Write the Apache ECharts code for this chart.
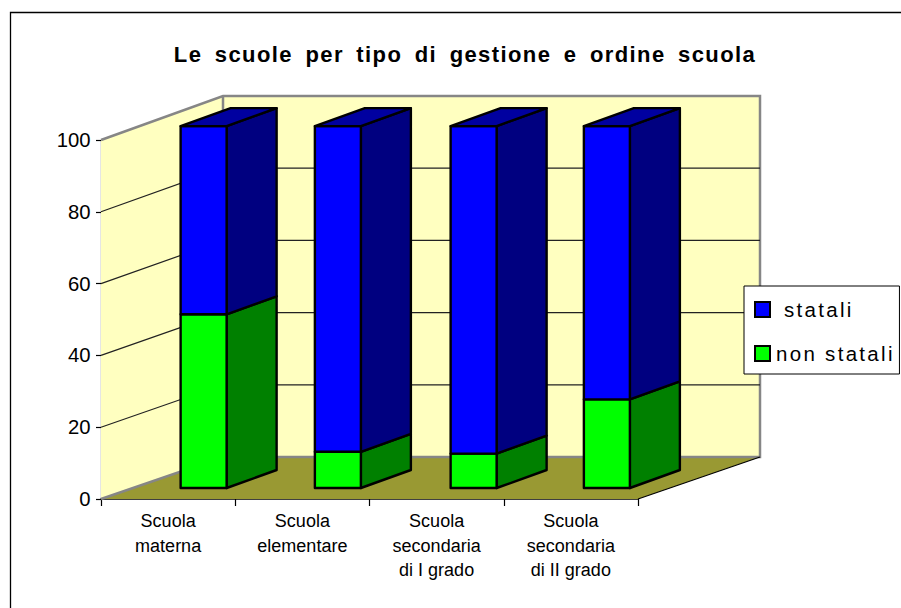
<!DOCTYPE html>
<html><head><meta charset="utf-8">
<style>
html,body{margin:0;padding:0;background:#fff}
#c{width:901px;height:608px}
#c svg text[style*="bold"]{letter-spacing:1.4px;word-spacing:5px}
#c svg text[style*="20.5px"]{letter-spacing:2.3px}
</style>
<script src="https://cdn.jsdelivr.net/npm/echarts@6/dist/echarts.min.js"></script>
</head><body><div id="c"></div>
<script>
const titleText = 'Le scuole per tipo di gestione e ordine scuola';
const categories = ['Scuola\nmaterna','Scuola\nelementare','Scuola\nsecondaria\ndi I grado','Scuola\nsecondaria\ndi II grado'];
const nonStatali = [48, 10, 9.5, 24.5];
const statali = [52, 90, 90.5, 75.5];
const yTicks = [0, 20, 40, 60, 80, 100];

// 3D projection layout (pixels)
const WALL_DX = 122, WALL_DY = -42, BACK_SCALE = 1.0055;
const BAR_DX = 50, BAR_DY = -18, BAR_W = 46, BAR_SHIFT_X = 35.5, BAR_BASE_Y = -11, BAR_SCALE = 1.008;
const BAR_NUDGE = [0, 0, 1.5, 0.5];

const chart = echarts.init(document.getElementById('c'), null, {renderer:'svg'});

function wallsItem(params, api){
  const cs = params.coordSys;
  const x0 = cs.x, x1 = cs.x + cs.width, yb = cs.y + cs.height, yt = cs.y;
  const byb = yb + WALL_DY, byt = byb - cs.height*BACK_SCALE;
  const bx0 = x0 + WALL_DX, bx1 = x1 + WALL_DX;
  const wallStyle = {fill:'#FFFFC0', stroke:null};
  const grey = {stroke:'#868686', lineWidth:2.5, fill:null};
  const kids = [
    {type:'polygon', shape:{points:[[x0,yb],[x0,yt],[bx0,byt],[bx0,byb]]}, style:wallStyle},
    {type:'polygon', shape:{points:[[bx0,byt],[bx1,byt],[bx1,byb],[bx0,byb]]}, style:wallStyle},
    {type:'polygon', shape:{points:[[x0,yb],[x1,yb],[bx1,byb],[bx0,byb]]}, style:{fill:'#999933'}},
    {type:'polyline', shape:{points:[[x0,yb],[bx0,byb],[bx1,byb],[bx1,byt],[bx0,byt],[x0,yt]]}, style:grey},
    {type:'line', shape:{x1:bx0,y1:byt,x2:bx0,y2:byb}, style:grey},
    {type:'line', shape:{x1:x1,y1:yb,x2:bx1,y2:byb}, style:{stroke:'#000',lineWidth:1.2}}
  ];
  return {type:'group', children:kids};
}
function gridItem(params, api){
  const cs = params.coordSys;
  const y = api.coord([0, api.value(0)])[1];
  const yb = cs.y + cs.height;
  const by = yb + WALL_DY + (y - yb)*BACK_SCALE;
  const sx = cs.x, ex = cs.x + cs.width;
  return {type:'polyline', shape:{points:[[sx,y],[sx+WALL_DX,by],[ex+WALL_DX,by]]},
    style:{stroke:'#222',lineWidth:1.2,fill:null}};
}
function barRender(colFront, colSide, colTop, values, bases, withTop){
  return function(params, api){
    const i = params.dataIndex;
    const zero = api.coord([i, 0]);
    const sy = (v)=> zero[1] + BAR_BASE_Y + (api.coord([i, v])[1]-zero[1])*BAR_SCALE;
    const xl = zero[0] + BAR_SHIFT_X + BAR_NUDGE[i] - BAR_W/2, xr = xl + BAR_W;
    const yb = sy(bases[i]), yt = sy(bases[i]+values[i]);
    const border = {stroke:'#000',lineWidth:2.4,lineJoin:'round'};
    const kids = [
      {type:'polygon', shape:{points:[[xr,yb],[xr+BAR_DX,yb+BAR_DY],[xr+BAR_DX,yt+BAR_DY],[xr,yt]]}, style:{fill:colSide,...border}},
      {type:'rect', shape:{x:xl,y:yt,width:BAR_W,height:yb-yt}, style:{fill:colFront,...border}}
    ];
    if(withTop) kids.push({type:'polygon', shape:{points:[[xl,yt],[xr,yt],[xr+BAR_DX,yt+BAR_DY],[xl+BAR_DX,yt+BAR_DY]]}, style:{fill:colTop,...border}});
    return {type:'group', children:kids};
  };
}
const zeros = categories.map(()=>0);
chart.setOption({
  animation:false,
  backgroundColor:'#fff',
  title:{text:titleText,left:460,top:38,textAlign:'center',textStyle:{fontFamily:'Liberation Sans',fontSize:22,fontWeight:'bold',color:'#000'}},
  grid:{left:101,top:140,width:537,height:359,containLabel:false},
  xAxis:{type:'category',data:categories,boundaryGap:true,
    axisLine:{lineStyle:{color:'#000',width:1.5},onZero:false},
    axisTick:{show:true,alignWithLabel:false,length:7,inside:false,lineStyle:{color:'#000',width:1.2}},
    axisLabel:{interval:0,margin:10,color:'#000',fontFamily:'Liberation Sans',fontSize:18,lineHeight:24.5}},
  yAxis:{type:'value',min:0,max:100,interval:20,splitLine:{show:false},
    axisLine:{show:true,lineStyle:{color:'#000',width:1.2}},
    axisTick:{show:true,length:5,lineStyle:{color:'#000',width:1.2}},
    axisLabel:{margin:10.5,color:'#000',fontFamily:'Liberation Sans',fontSize:20.3}},
  legend:{orient:'vertical',left:744,top:286,padding:[13,30,10,10],itemGap:23,
    itemWidth:15,itemHeight:15,icon:'rect',backgroundColor:'#fff',borderColor:'#000',borderWidth:1,
    textStyle:{fontFamily:'Liberation Sans',fontSize:20.5,color:'#000',padding:[0,0,0,1]},
    data:['statali','non statali'],
    formatter:(n)=> n==='statali' ? ' statali' : n},
  series:[
    {type:'custom',name:'walls',silent:true,z:1,data:[0],renderItem:wallsItem,legendHoverLink:false},
    {type:'custom',name:'grid',silent:true,z:2,data:yTicks.slice(1,5).map(v=>[v]),encode:{y:0},renderItem:gridItem},
    {type:'custom',name:'non statali',z:4,itemStyle:{color:'#00FF00',borderColor:'#000',borderWidth:2},
      data:nonStatali.map((v,i)=>[i,v]),encode:{x:0,y:1},renderItem:barRender('#00FF00','#008000','#00A000',nonStatali,zeros,false)},
    {type:'custom',name:'statali',z:4,itemStyle:{color:'#0000FF',borderColor:'#000',borderWidth:2},
      data:statali.map((v,i)=>[i,v]),encode:{x:0,y:1},renderItem:barRender('#0000FF','#000080','#0000A0',statali,nonStatali,true)}
  ],
  graphic:[{type:'rect',z:-10,silent:true,shape:{x:10.5,y:12.5,width:920,height:620},style:{fill:null,stroke:'#000',lineWidth:1.3}}]
});
</script></body></html>
